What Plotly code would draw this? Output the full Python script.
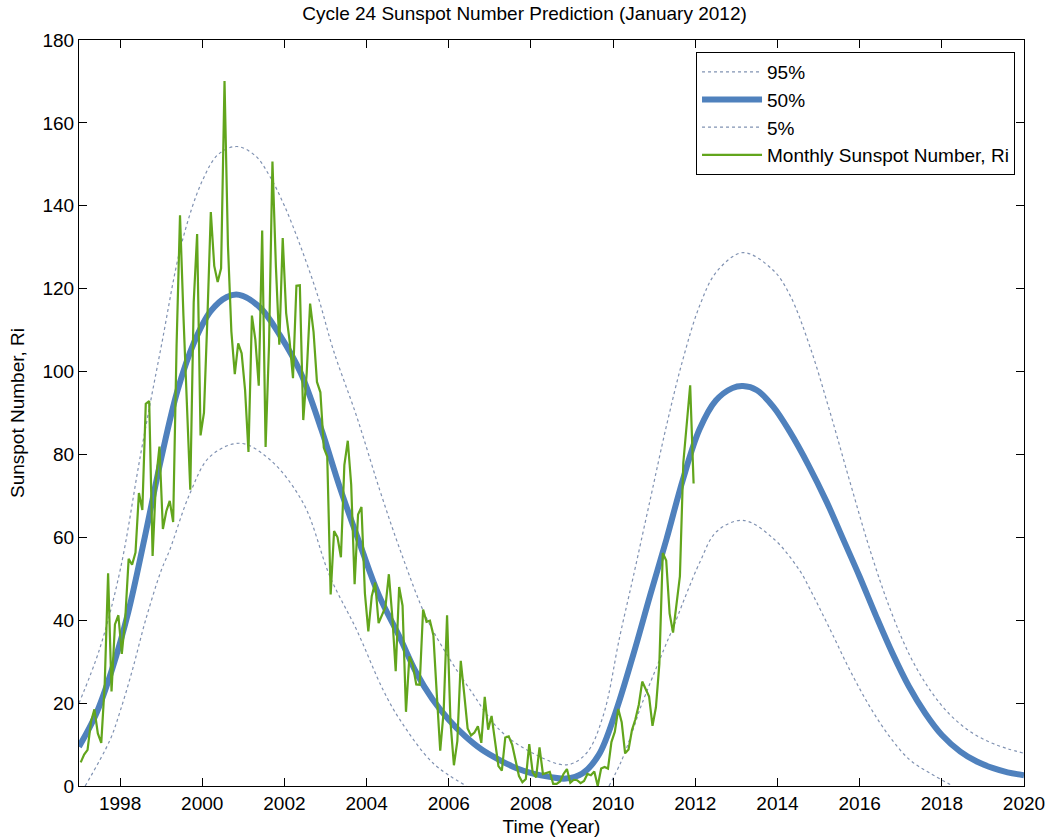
import plotly.graph_objects as go

# ---------------- data ----------------
years = list(range(1997, 2012))
ssn_1997 = [5.7, 7.6, 8.7, 15.5, 18.5, 12.7, 10.4, 24.4, 51.3, 22.8, 39.0, 41.2]
ssn_1998 = [31.9, 40.3, 54.8, 53.4, 56.3, 70.7, 66.6, 92.2, 92.9, 55.5, 74.0, 81.9]
ssn_1999 = [62.0, 66.3, 68.8, 63.7, 106.4, 137.7, 113.5, 93.7, 71.5, 116.7, 133.2, 84.6]
ssn_2000 = [90.1, 112.9, 138.5, 125.5, 121.6, 124.9, 170.1, 130.5, 109.7, 99.4, 106.8, 104.4]
ssn_2001 = [95.6, 80.6, 113.5, 107.7, 96.6, 134.0, 81.8, 106.4, 150.7, 125.5, 106.5, 132.2]
ssn_2002 = [114.1, 107.4, 98.4, 120.7, 120.8, 88.3, 99.6, 116.4, 109.6, 97.5, 95.0, 81.6]
ssn_2003 = [79.5, 46.2, 61.5, 60.0, 55.2, 77.4, 83.3, 72.7, 48.7, 65.5, 67.3, 46.5]
ssn_2004 = [37.3, 45.8, 49.1, 39.3, 41.5, 43.2, 51.1, 40.9, 27.7, 48.0, 43.5, 17.9]
ssn_2005 = [31.3, 29.2, 24.5, 24.4, 42.6, 39.6, 39.9, 36.4, 22.1, 8.5, 18.0, 41.2]
ssn_2006 = [15.4, 5.0, 10.8, 30.2, 22.3, 13.9, 12.2, 12.9, 14.4, 10.4, 21.5, 13.6]
ssn_2007 = [16.9, 10.6, 4.8, 3.7, 11.7, 12.0, 10.0, 6.2, 2.4, 0.9, 1.7, 10.1]
ssn_2008 = [3.3, 2.1, 9.3, 2.9, 3.2, 3.4, 0.5, 0.5, 1.1, 2.9, 4.1, 0.8]
ssn_2009 = [1.5, 1.4, 0.7, 1.2, 2.9, 2.6, 3.5, 0.0, 4.2, 4.6, 4.2, 10.6]
ssn_2010 = [13.1, 18.6, 15.4, 7.9, 8.8, 13.5, 16.1, 19.6, 25.2, 23.5, 21.6, 14.5]
ssn_2011 = [19.0, 29.4, 56.2, 54.4, 41.6, 37.0, 43.9, 50.6, 78.0, 88.0, 96.7, 73.0]
monthly = [ssn_1997, ssn_1998, ssn_1999, ssn_2000, ssn_2001, ssn_2002, ssn_2003,
           ssn_2004, ssn_2005, ssn_2006, ssn_2007, ssn_2008, ssn_2009, ssn_2010, ssn_2011]

# 50% prediction curve
t50 = [1997.0, 1997.4, 1997.8, 1998.2, 1998.6, 1999.0, 1999.4, 1999.8, 2000.2, 2000.6,
       2000.9, 2001.4, 2001.9, 2002.4, 2002.9, 2003.35, 2003.85, 2004.3, 2004.8, 2005.2,
       2005.6, 2006.0, 2006.4, 2006.8, 2007.25, 2007.65, 2008.05, 2008.45, 2008.85, 2009.25,
       2009.65, 2010.05, 2010.5, 2010.9, 2011.3, 2011.7, 2012.1, 2012.5, 2012.9, 2013.16,
       2013.5, 2013.9, 2014.3, 2014.75, 2015.2, 2015.6, 2016.0, 2016.4, 2016.8, 2017.2,
       2017.6, 2018.0, 2018.45, 2018.85, 2019.25, 2019.6, 2020.0]
r50 = [9.5, 17.0, 28.0, 42.0, 60.0, 79.0, 95.5, 107.0, 114.5, 118.0,
       118.5, 115.5, 108.6, 99.6, 86.0, 72.0, 58.0, 46.0, 36.0, 27.5,
       21.0, 16.0, 12.0, 8.8, 6.2, 4.3, 3.0, 2.2, 1.8, 3.0,
       7.5, 17.5, 32.0, 46.0, 59.6, 74.0, 86.0, 93.0, 96.0, 96.5,
       95.5, 91.5, 85.5, 77.5, 68.5, 59.5, 50.5, 41.0, 32.0, 24.0,
       17.5, 12.3, 8.3, 5.9, 4.3, 3.3, 2.6]

# 95% curve
t95 = [1997.0, 1997.5, 1998.0, 1998.5, 1999.0, 1999.5, 2000.0, 2000.4, 2000.85, 2001.3,
       2001.65, 2002.0, 2002.4, 2002.82, 2003.19, 2003.76, 2004.32, 2004.85, 2005.46, 2006.03,
       2006.5, 2007.24, 2008.05, 2008.87, 2009.35, 2009.76, 2010.16, 2010.49, 2010.9, 2011.3,
       2011.7, 2012.11, 2012.52, 2013.16, 2013.89, 2014.3, 2014.79, 2015.27, 2015.76, 2016.25,
       2016.73, 2017.22, 2017.71, 2018.19, 2018.68, 2019.16, 2019.6, 2020.0]
r95 = [20.0, 33.0, 52.0, 80.0, 106.0, 131.0, 146.0, 152.5, 154.3, 152.0,
       147.0, 140.0, 130.0, 118.0, 105.2, 89.1, 71.4, 56.0, 40.5, 30.5,
       23.5, 13.5, 7.9, 5.1, 7.9, 17.0, 36.0, 50.5, 69.0, 87.0,
       103.0, 116.0, 124.1, 128.7, 124.5, 118.5, 106.0, 90.5, 73.5, 57.0,
       43.0, 31.5, 23.2, 17.3, 13.2, 10.6, 9.0, 7.9]

# 5% curve (two visible segments, below zero in between)
t05 = [1997.15, 1997.75, 1998.0, 1998.3, 1998.62, 1999.0, 1999.21, 1999.7, 2000.19, 2000.92,
       2001.65, 2002.46, 2003.11, 2003.76, 2004.4, 2004.81, 2005.62, 2006.43, None,
       2009.9, 2010.2, 2010.5, 2010.65, 2011.3, 2011.45, 2012.11, 2012.52, 2013.16, 2013.89,
       2014.54, 2014.79, 2015.27, 2015.76, 2016.25, 2016.73, 2017.22, 2017.71, 2018.27]
r05 = [0.0, 11.0, 18.0, 28.0, 40.0, 52.0, 57.0, 70.6, 79.5, 82.7,
       78.7, 68.2, 50.5, 37.6, 23.2, 16.0, 5.5, 0.0, None,
       0.0, 6.0, 14.0, 18.5, 34.5, 38.0, 54.0, 61.4, 64.1, 59.8,
       52.0, 47.5, 38.0, 28.0, 19.1, 11.9, 6.3, 3.1, 0.0]

x_ticks = list(range(1998, 2021, 2))
y_ticks = list(range(0, 181, 20))

# --------------- figure ---------------
t_green = [yr + (m + 0.5) / 12 for yr, row in zip(years, monthly) for m in range(len(row))]
v_green = [v for row in monthly for v in row]

FONT = "Liberation Sans, Arial, sans-serif"
dot_color = "#8092b2"

fig = go.Figure()
fig.add_trace(go.Scatter(x=t95, y=r95, mode="lines", name="95%",
                         line=dict(color=dot_color, width=1.2, dash="dot", shape="spline", smoothing=1.0)))
fig.add_trace(go.Scatter(x=t50, y=r50, mode="lines", name="50%",
                         line=dict(color="#4f81bd", width=6, shape="spline", smoothing=1.0)))
fig.add_trace(go.Scatter(x=t05, y=r05, mode="lines", name="5%", connectgaps=False,
                         line=dict(color=dot_color, width=1.2, dash="dot", shape="spline", smoothing=1.0)))
fig.add_trace(go.Scatter(x=t_green, y=v_green, mode="lines", name="Monthly Sunspot Number, Ri",
                         line=dict(color="#62a51c", width=2.2)))

axis_common = dict(showline=True, linecolor="black", linewidth=1, mirror="allticks",
                   ticks="inside", ticklen=8, tickwidth=1, tickcolor="black",
                   showgrid=False, zeroline=False, automargin=False,
                   tickfont=dict(family=FONT, size=19, color="black"))

fig.update_layout(
    width=1049, height=838,
    margin=dict(l=79, r=25, t=40, b=52),
    paper_bgcolor="white", plot_bgcolor="white",
    font=dict(family=FONT, color="black"),
    title=dict(text="Cycle 24 Sunspot Number Prediction (January 2012)",
               x=0.5, xanchor="center", y=1 - 13 / 838, yanchor="middle",
               font=dict(family=FONT, size=19, color="black")),
    xaxis=dict(range=[1997, 2020], tickvals=x_ticks, ticktext=[str(v) for v in x_ticks],
               title=dict(text="Time (Year)", font=dict(family=FONT, size=19), standoff=6),
               **axis_common),
    yaxis=dict(range=[0, 180], tickvals=y_ticks,
               title=dict(text="Sunspot Number, Ri", font=dict(family=FONT, size=19), standoff=12),
               **axis_common),
    legend=dict(x=0.9905, xanchor="right", y=0.984, yanchor="top",
                bgcolor="white", bordercolor="black", borderwidth=1,
                font=dict(family=FONT, size=19, color="black"),
                itemwidth=60, tracegroupgap=0),
    showlegend=True,
)

fig.write_html("out.html")
